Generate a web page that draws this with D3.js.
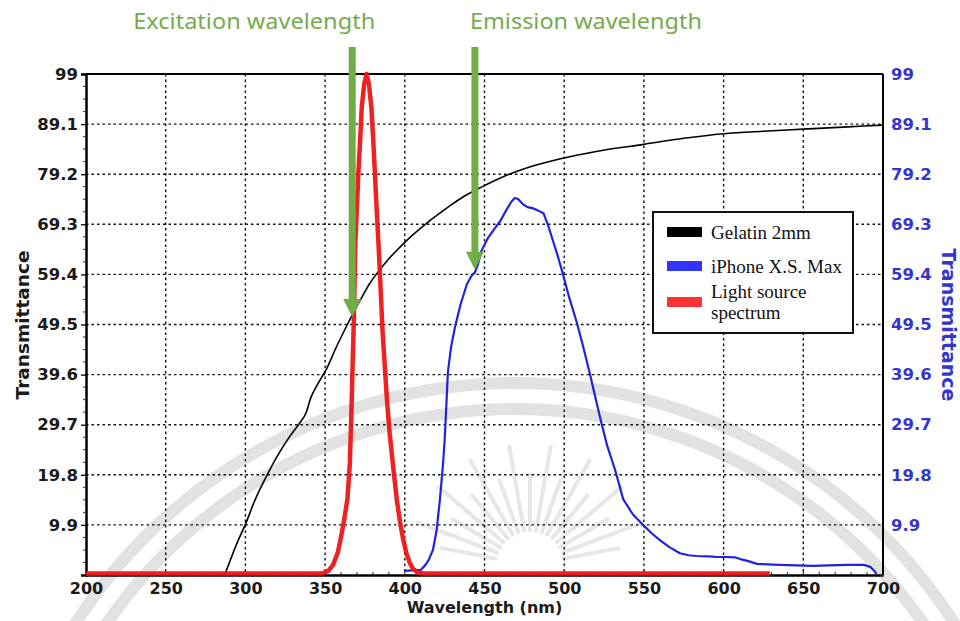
<!DOCTYPE html>
<html>
<head>
<meta charset="utf-8">
<script src="https://cdn.jsdelivr.net/npm/d3@7/dist/d3.min.js"></script>
<style>
  html, body { margin: 0; padding: 0; background: #fff; }
  svg { display: block; }
</style>
</head>
<body>
<svg id="chart" width="960" height="621"></svg>
<script>
// Wavelength axis (nm) and transmittance axis (%)
const xTicks = [200, 250, 300, 350, 400, 450, 500, 550, 600, 650, 700];
const yTicks = [9.9, 19.8, 29.7, 39.6, 49.5, 59.4, 69.3, 79.2, 89.1, 99];
const yTickLabels = ["9.9", "19.8", "29.7", "39.6", "49.5", "59.4", "69.3", "79.2", "89.1", "99"];

// Gelatin 2mm transmittance: [wavelength, %]
const gelatin = [
  [287, 0], [290, 2.5], [295, 6.5], [300, 10], [306, 14.8], [313, 19.4], [320, 23.5],
  [327, 27], [334, 30], [338, 32], [341, 35], [345, 37.5], [351, 40.8], [357, 45],
  [364, 49.5], [372, 54.3], [378, 57.6], [384, 60.2], [390, 62.5], [397, 64.8],
  [405, 67.2], [414, 69.6], [422, 71.5], [428, 72.9], [437, 74.8], [449, 76.8],
  [461, 78.6], [475, 80.3], [497, 82.2], [520, 83.7], [550, 85.1], [575, 86.3],
  [600, 87.2], [625, 87.7], [650, 88.1], [675, 88.5], [700, 88.9]
];

// iPhone X.S. Max screen emission
const iphone = [
  [400, 0.8], [405, 0.9], [410, 1], [413, 2], [415, 3], [417.7, 5], [420, 8.9],
  [422, 14.8], [424, 22], [425, 26.7], [426, 33], [427, 40], [429, 45], [431.5, 49],
  [435, 53.5], [439, 57.5], [442, 59.2], [444, 59.8], [446, 61.5], [448, 64],
  [452, 66.5], [456, 68.3], [460, 70], [464, 72.3], [467, 73.8], [469, 74.5],
  [471, 74.3], [474, 73.3], [477, 72.7], [480, 72.5], [483, 72.1], [487, 71.5],
  [490, 69], [493, 66], [496, 63], [499, 59.7], [503, 55], [508, 49.8], [512, 45],
  [516, 39.9], [520, 34.5], [523, 30.5], [527, 25.5], [532, 20.7], [537, 15],
  [543, 12], [549.5, 9.9], [555, 8.2], [560, 6.9], [566, 5.5], [572.6, 4.3],
  [578, 3.9], [583, 3.75], [590, 3.7], [595, 3.6], [602, 3.56], [607, 3.5],
  [611, 3.1], [615, 2.8], [621, 2.2], [635, 2], [656, 1.8], [677, 2], [688, 2],
  [692, 1.6], [694, 1], [696, 0.2]
];

// Light source spectrum
const lightSource = [
  [200, 0.3], [348, 0.3], [352, 0.8], [355, 2], [358, 4.5], [360, 7.5], [362, 11],
  [364, 15], [365.5, 22], [366.5, 32], [367.3, 42], [368, 50], [368.5, 58], [369, 66],
  [370, 73], [370.8, 79], [372, 86], [373, 92.5], [374.5, 97], [376, 99], [377.5, 97],
  [379, 92.5], [380.2, 86], [381.3, 79], [382.4, 72], [383.4, 66], [384.4, 59.6],
  [385.2, 54], [386, 48.4], [387.5, 41], [388.8, 34.6], [390.5, 28], [392.5, 22],
  [395, 14.8], [397, 10.5], [399, 7], [401, 4.3], [403, 2.5], [405, 1.3], [408, 0.5],
  [412, 0.3], [629, 0.3]
];

// Annotated wavelengths and the transmittance at each arrow tip
const markerLabels = ["Excitation wavelength", "Emission wavelength"];
const markerWavelengths = [367, 444];
const markerValues = [51, 60.3];

const seriesNames = ["Gelatin 2mm", "iPhone X.S. Max", "Light source spectrum"];

const svg = d3.select("#chart");
const plotLeft = 86, plotRight = 883, plotTop = 74, plotBottom = 575;

const x = d3.scaleLinear().domain([200, 700]).range([plotLeft, plotRight]);
const y = d3.scaleLinear().domain([0, 99]).range([plotBottom, plotTop]);

// Faint seal watermark in the background
const wm = svg.append("g").attr("opacity", 0.6);
const arcCx = 515, arcCy = 905;
[522, 496].forEach(r => {
  wm.append("path")
    .attr("d", d3.arc()({ innerRadius: r - 6, outerRadius: r + 6, startAngle: -Math.PI * 0.44, endAngle: Math.PI * 0.42 }))
    .attr("transform", `translate(${arcCx},${arcCy})`)
    .attr("fill", "#cfcfcf");
});
const sunX = 530, sunY = 565;
d3.range(17).forEach(i => {
  const a = Math.PI * (1.06 + i * 0.055);
  const r2 = 90 + (i % 2) * 30;
  wm.append("line")
    .attr("x1", sunX + Math.cos(a) * 35).attr("y1", sunY + Math.sin(a) * 35)
    .attr("x2", sunX + Math.cos(a) * r2).attr("y2", sunY + Math.sin(a) * r2)
    .attr("stroke", "#d8d8d8").attr("stroke-width", 4).attr("stroke-linecap", "round");
});

// Dotted grid
const grid = svg.append("g").attr("stroke", "#111").attr("stroke-width", 1.4).attr("stroke-dasharray", "2.5,3");
grid.selectAll("line.v").data(xTicks.slice(1, -1)).join("line").attr("class", "v")
  .attr("x1", d => x(d)).attr("x2", d => x(d)).attr("y1", y(99)).attr("y2", y(0));
grid.selectAll("line.h").data(yTicks.slice(0, -1)).join("line").attr("class", "h")
  .attr("x1", x(200)).attr("x2", x(700)).attr("y1", d => y(d)).attr("y2", d => y(d));

// Frame: top and right borders
svg.append("line").attr("x1", x(200)).attr("x2", x(700)).attr("y1", y(99)).attr("y2", y(99))
  .attr("stroke", "#000").attr("stroke-width", 2);
svg.append("line").attr("x1", x(700)).attr("x2", x(700)).attr("y1", y(99)).attr("y2", y(0))
  .attr("stroke", "#000").attr("stroke-width", 2);

// Bottom axis
const xAxis = svg.append("g").attr("transform", `translate(0,${plotBottom})`)
  .call(d3.axisBottom(x).tickValues(xTicks).tickSize(0).tickPadding(8).tickFormat(d3.format("d")));
xAxis.select(".domain").attr("stroke", "#000").attr("stroke-width", 2.5);
xAxis.selectAll("text").attr("font-family", "DejaVu Sans, Verdana, sans-serif")
  .attr("font-weight", "bold").attr("font-size", 16).attr("fill", "#1a1a1a");
svg.append("g").selectAll("line").data(d3.range(210, 700, 10)).join("line")
  .attr("x1", d => x(d)).attr("x2", d => x(d)).attr("y1", plotBottom).attr("y2", d => plotBottom - (d % 50 === 0 ? 5 : 3))
  .attr("stroke", "#222").attr("stroke-width", 1);

// Left axis
const yAxisL = svg.append("g").attr("transform", `translate(${plotLeft},0)`)
  .call(d3.axisLeft(y).tickValues(yTicks).tickSize(5).tickPadding(3).tickFormat((d, i) => yTickLabels[i]));
yAxisL.select(".domain").attr("stroke", "#000").attr("stroke-width", 2.5);
yAxisL.selectAll(".tick line").attr("stroke", "#000").attr("stroke-width", 1.3);
yAxisL.selectAll("text").attr("font-family", "DejaVu Sans, Verdana, sans-serif")
  .attr("font-weight", "bold").attr("font-size", 16.5).attr("fill", "#1a1a1a");
const minorY = d3.range(1, 40).map(i => i * 2.475).filter(v => Math.abs(v / 9.9 - Math.round(v / 9.9)) > 0.01);
svg.append("g").selectAll("line").data(minorY).join("line")
  .attr("x1", plotLeft).attr("x2", plotLeft - 3).attr("y1", d => y(d)).attr("y2", d => y(d))
  .attr("stroke", "#333").attr("stroke-width", 1);

// Right axis labels
const yAxisR = svg.append("g").attr("transform", `translate(${plotRight},0)`)
  .call(d3.axisRight(y).tickValues(yTicks).tickSize(0).tickPadding(8).tickFormat((d, i) => yTickLabels[i]));
yAxisR.select(".domain").remove();
yAxisR.selectAll("text").attr("font-family", "DejaVu Sans, Verdana, sans-serif")
  .attr("font-weight", "bold").attr("font-size", 16.5).attr("fill", "#3535cc");

// Axis titles
svg.append("text").attr("x", (plotLeft + plotRight) / 2).attr("y", 613).attr("text-anchor", "middle")
  .attr("font-family", "DejaVu Sans, Verdana, sans-serif").attr("font-weight", "bold").attr("font-size", 16)
  .attr("fill", "#1a1a1a").text("Wavelength (nm)");
svg.append("text").attr("transform", "translate(29,325) rotate(-90)").attr("text-anchor", "middle")
  .attr("font-family", "DejaVu Sans, Verdana, sans-serif").attr("font-weight", "bold").attr("font-size", 18.5)
  .attr("fill", "#1a1a1a").text("Transmittance");
svg.append("text").attr("transform", "translate(942,325) rotate(90)").attr("text-anchor", "middle")
  .attr("font-family", "DejaVu Sans, Verdana, sans-serif").attr("font-weight", "bold").attr("font-size", 19)
  .attr("fill", "#3535cc").text("Transmittance");

// Curves
const line = d3.line().x(d => x(d[0])).y(d => y(d[1])).curve(d3.curveLinear);
const smoothLine = d3.line().x(d => x(d[0])).y(d => y(d[1])).curve(d3.curveMonotoneX);
svg.append("path").datum(gelatin).attr("d", smoothLine)
  .attr("fill", "none").attr("stroke", "#000").attr("stroke-width", 1.6).attr("stroke-linejoin", "round");
svg.append("path").datum(iphone).attr("d", line)
  .attr("fill", "none").attr("stroke", "#2222dd").attr("stroke-width", 2.2).attr("stroke-linejoin", "round");
svg.append("path").datum(lightSource).attr("d", line)
  .attr("fill", "none").attr("stroke", "#ee1515").attr("stroke-width", 4.5).attr("stroke-linejoin", "round")
  .attr("stroke-opacity", 0.95);

// Green arrows and labels
const green = "#70ad47";
const labelGreen = "#77aa4f";
markerWavelengths.forEach((wl, i) => {
  const ax = x(wl), tipY = y(markerValues[i]);
  svg.append("rect").attr("x", ax - 3.5).attr("y", 47).attr("width", 7).attr("height", tipY - 17 - 47).attr("fill", green);
  svg.append("path")
    .attr("d", `M${ax - 9},${tipY - 18} L${ax + 9},${tipY - 18} L${ax},${tipY} Z`)
    .attr("fill", green);
});
svg.append("text").attr("x", x(markerWavelengths[0]) + 23).attr("y", 29).attr("text-anchor", "end")
  .attr("font-family", "Noto Sans, Open Sans, sans-serif").attr("font-size", 22.5).attr("fill", labelGreen)
  .attr("textLength", 242).attr("lengthAdjust", "spacingAndGlyphs").text(markerLabels[0]);
svg.append("text").attr("x", x(markerWavelengths[1]) - 5).attr("y", 29).attr("text-anchor", "start")
  .attr("font-family", "Noto Sans, Open Sans, sans-serif").attr("font-size", 22.5).attr("fill", labelGreen)
  .attr("textLength", 232).attr("lengthAdjust", "spacingAndGlyphs").text(markerLabels[1]);

// Legend
const legend = svg.append("g");
legend.append("rect").attr("x", 653).attr("y", 212).attr("width", 200).attr("height", 121)
  .attr("fill", "#fff").attr("stroke", "#111").attr("stroke-width", 2);
const swatchColors = ["#000", "#3333ff", "#ff3333"];
const rowY = [232, 266, 302];
seriesNames.forEach((name, i) => {
  legend.append("rect").attr("x", 667).attr("y", rowY[i] - 5).attr("width", 35).attr("height", 10).attr("fill", swatchColors[i]);
});
const legendFont = "Liberation Serif, Times New Roman, serif";
const legendSize = 19;
legend.append("text").attr("x", 711).attr("y", 239).attr("font-family", legendFont).attr("font-size", legendSize).attr("fill", "#111").text(seriesNames[0]);
legend.append("text").attr("x", 711).attr("y", 273).attr("font-family", legendFont).attr("font-size", legendSize).attr("fill", "#111").text(seriesNames[1]);
legend.append("text").attr("x", 711).attr("y", 298).attr("font-family", legendFont).attr("font-size", legendSize).attr("fill", "#111").text("Light source");
legend.append("text").attr("x", 711).attr("y", 319).attr("font-family", legendFont).attr("font-size", legendSize).attr("fill", "#111").text("spectrum");
</script>
</body>
</html>
